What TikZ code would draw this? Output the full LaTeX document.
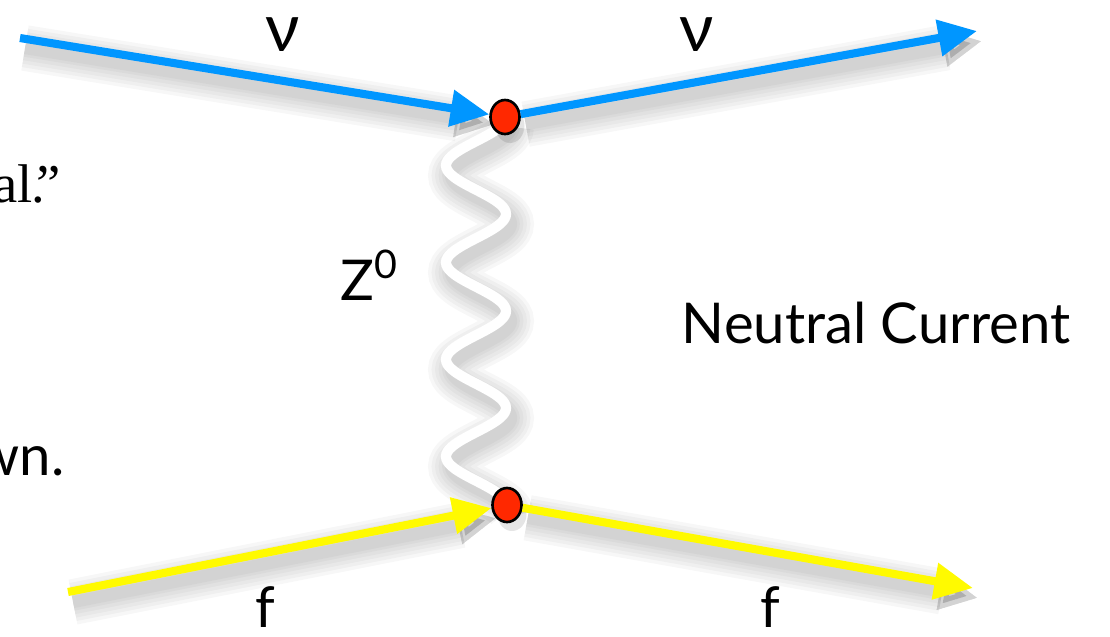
\documentclass[tikz,border=0pt]{standalone}
\usepackage{fontspec}
\setmainfont{Lato}
\newfontfamily\timesface{Liberation Serif}
\usepackage{tikz}
\usetikzlibrary{arrows.meta, shapes.geometric}

\definecolor{nublue}{RGB}{0,150,255}
\definecolor{fyellow}{RGB}{255,250,0}
\definecolor{vertexred}{RGB}{255,40,0}

\begin{document}
\begin{tikzpicture}[x=0.01cm, y=-0.01cm, >={Triangle[length=11pt, width=10pt]},
		every node/.style={font=\fontsize{16}{19}\selectfont, inner sep=0pt},
		blur/.style={preaction={draw=black, opacity=0.03, line width=#1,
			transform canvas={shift={(5,10)}}}},
		shadowed/.style={blur=13pt, blur=11pt, blur=9pt, blur=7pt, blur=5pt, blur=3.5pt},
		leg/.style={->, line width=2.3pt, shadowed},
		vertex/.style={ellipse, draw=black, line width=0.75pt, fill=vertexred,
			minimum width=0.29cm, minimum height=0.34cm,
			preaction={fill=black, opacity=0.1, transform canvas={shift={(5,9)}}}},
		nulabel/.style={font=\fontsize{19}{22}\selectfont}]
	\useasboundingbox (0,0) rectangle (1110,636);
	% the Z0 line goes under the two vertices
	\draw[white, line width=2.9pt, line cap=round, shadowed]
		plot[domain=0:8, samples=161, smooth] ({476+30*cos(180*\x)}, {117+48.5*\x});
	\node[vertex] (top) at (505,117) {};
	\node[vertex] (bot) at (507,505) {};
	\coordinate (nuin) at (20,38);
	\coordinate (nuout) at (977,31);
	\coordinate (fin) at (68,592);
	\coordinate (fout) at (973,588);
	\draw[leg, nublue] (nuin) -- (top);
	\draw[leg, nublue] (top) -- (nuout);
	\draw[leg, fyellow] (fin) -- (bot);
	\draw[leg, fyellow] (bot) -- (fout);
	\foreach \x/\n in {283/nuleft, 697/nuright}
		\node[nulabel] (\n) at (\x,35) {ν};
	\foreach \x/\n in {265/fleft, 770/fright}
		\node (\n) at (\x,607) {f};
	\node (zlabel) at (370,275) {Z\textsuperscript{0}};
	\node (nclabel) at (876,323) {Neutral Current};
	% text cut off at the left edge
	\node[anchor=base west, font=\timesface\fontsize{15.5}{18}\selectfont]
		(alline) at (-7,202) {al\kern-0.5pt.\kern-2.5pt”};
	\node[anchor=base east] (wnline) at (65,475) {wn.};
\end{tikzpicture}
\end{document}
